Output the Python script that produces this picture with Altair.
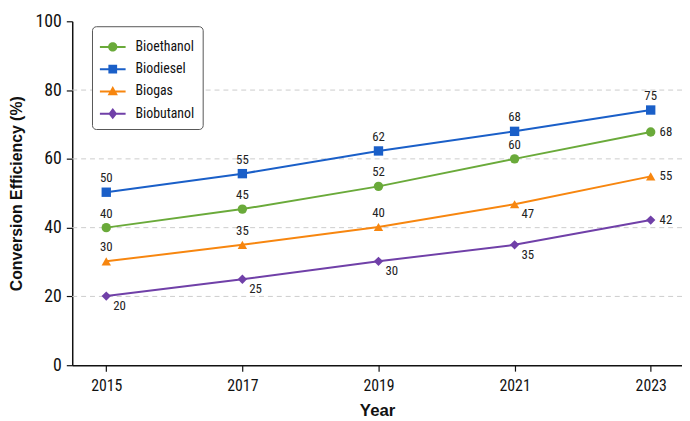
import altair as alt
import pandas as pd

years = [2015, 2017, 2019, 2021, 2023]
series_names = ["Bioethanol", "Biodiesel", "Biogas", "Biobutanol"]
bioethanol = [40, 45.4, 52, 60, 67.8]
biodiesel = [50.3, 55.7, 62.3, 68, 74.2]
biogas = [30.2, 35, 40.2, 46.8, 54.9]
biobutanol = [20.1, 25, 30.2, 35, 42.2]
bioethanol_labels = ["40", "45", "52", "60", "68"]
biodiesel_labels = ["50", "55", "62", "68", "75"]
biogas_labels = ["30", "35", "40", "47", "55"]
biobutanol_labels = ["20", "25", "30", "35", "42"]
y_ticks = [0, 20, 40, 60, 80, 100]
grid_values = [20, 40, 60, 80]

colors = ["#6aaa3a", "#1a5fc8", "#f7860f", "#7040a8"]
shapes = ["circle", "square", "triangle-up", "diamond"]

# legend symbols: a short line with the marker on it (unit-square paths)
_seg = "M-1,-0.08H-0.2V0.08H-1Z M0.2,-0.08H1V0.08H0.2Z "
legend_shapes = [
    _seg + "M0.36,0A0.36,0.36 0 1,1 -0.36,0A0.36,0.36 0 1,1 0.36,0Z",
    _seg + "M-0.34,-0.34H0.34V0.34H-0.34Z",
    _seg + "M0,-0.42L0.4,0.3L-0.4,0.3Z",
    _seg + "M0,-0.44L0.34,0L0,0.44L-0.34,0Z",
]

# label placement style per series/year: A=above, R=right, BR=below-right
placement = {
    "Bioethanol": ["A", "A", "A", "A", "R"],
    "Biodiesel": ["A", "A", "A", "A", "A"],
    "Biogas": ["A", "A", "A", "BR", "R"],
    "Biobutanol": ["BR", "BR", "BR", "BR", "R"],
}

rows = []
for name, vals, labs in zip(series_names,
                            [bioethanol, biodiesel, biogas, biobutanol],
                            [bioethanol_labels, biodiesel_labels, biogas_labels, biobutanol_labels]):
    for i, (yr, v, lab) in enumerate(zip(years, vals, labs)):
        rows.append({"Year": yr, "Value": v, "Fuel": name, "Label": lab,
                     "Pos": placement[name][i]})
df = pd.DataFrame(rows)
grid_df = pd.DataFrame({"Value": grid_values})

FONT = "Liberation Sans Narrow, Roboto Condensed, Liberation Sans, Arial"

x = alt.X("Year:Q",
          scale=alt.Scale(domain=[2014.5, 2023.46], nice=False, zero=False),
          axis=alt.Axis(values=years, format="d", title="Year", grid=False,
                        labelFontSize=16, labelFont=FONT, labelColor="#111",
                        labelPadding=7, tickSize=6, tickColor="#111",
                        domainColor="#111", domainWidth=1.5, tickWidth=1.2,
                        titleFont="Liberation Sans", titleFontSize=17,
                        titleFontWeight="bold", titleColor="#111", titlePadding=9))
y = alt.Y("Value:Q",
          scale=alt.Scale(domain=[0, 100], nice=False),
          axis=alt.Axis(values=y_ticks, title="Conversion Efficiency (%)", grid=False,
                        labelFontSize=18, labelFont=FONT, labelColor="#111",
                        labelPadding=5, tickSize=6, tickColor="#111",
                        domainColor="#111", domainWidth=1.5, tickWidth=1.2,
                        titleFont="Liberation Sans", titleFontSize=16,
                        titleFontWeight="bold", titleColor="#111", titlePadding=11))

color_scale = alt.Scale(domain=series_names, range=colors)
shape_scale = alt.Scale(domain=series_names, range=shapes)
legend_shape_scale = alt.Scale(domain=series_names, range=legend_shapes)

grid = alt.Chart(grid_df).mark_rule(color="#cccccc", strokeDash=[5, 4], strokeWidth=1).encode(
    y=y
)

lines = alt.Chart(df).mark_line(strokeWidth=2).encode(
    x=x, y=y,
    color=alt.Color("Fuel:N", scale=color_scale, legend=None),
)

points = alt.Chart(df).mark_point(filled=True, size=90, opacity=1).encode(
    x=x, y=y,
    color=alt.Color("Fuel:N", scale=color_scale, legend=None),
    shape=alt.Shape("Fuel:N", scale=shape_scale, legend=None),
)

legend_props = dict(orient="none", legendX=20, legendY=5, title=None,
                    symbolSize=676, symbolOpacity=1, symbolStrokeWidth=0,
                    labelFontSize=14, labelFont=FONT, labelColor="#111",
                    labelOffset=10, padding=8, rowPadding=2.5,
                    fillColor="white", strokeColor="#555", cornerRadius=4)
legend_layer = alt.Chart(df).mark_point(filled=True, opacity=0).encode(
    x=x, y=y,
    color=alt.Color("Fuel:N", scale=color_scale, legend=alt.Legend(**legend_props)),
    shape=alt.Shape("Fuel:N", scale=legend_shape_scale, legend=alt.Legend(**legend_props)),
)

text_base = alt.Chart(df).encode(x=x, y=y, text="Label:N")
t_above = text_base.transform_filter(alt.datum.Pos == "A").mark_text(
    dy=-14, align="center", baseline="middle", fontSize=13, font=FONT, color="#222")
t_right = text_base.transform_filter(alt.datum.Pos == "R").mark_text(
    dx=9, align="left", baseline="middle", fontSize=13, font=FONT, color="#222")
t_br = text_base.transform_filter(alt.datum.Pos == "BR").mark_text(
    dx=7, dy=10, align="left", baseline="middle", fontSize=13, font=FONT, color="#222")

chart = alt.layer(grid, lines, points, legend_layer, t_above, t_right, t_br).resolve_scale(
    color="independent", shape="independent"
).properties(
    width=617, height=348,
    background="white",
    autosize=alt.AutoSizeParams(type="none"),
    padding={"left": 65, "top": 11, "right": 0, "bottom": 54},
).configure_view(stroke=None)

chart.save("out.html", embed_options={"renderer": "svg", "actions": False})
